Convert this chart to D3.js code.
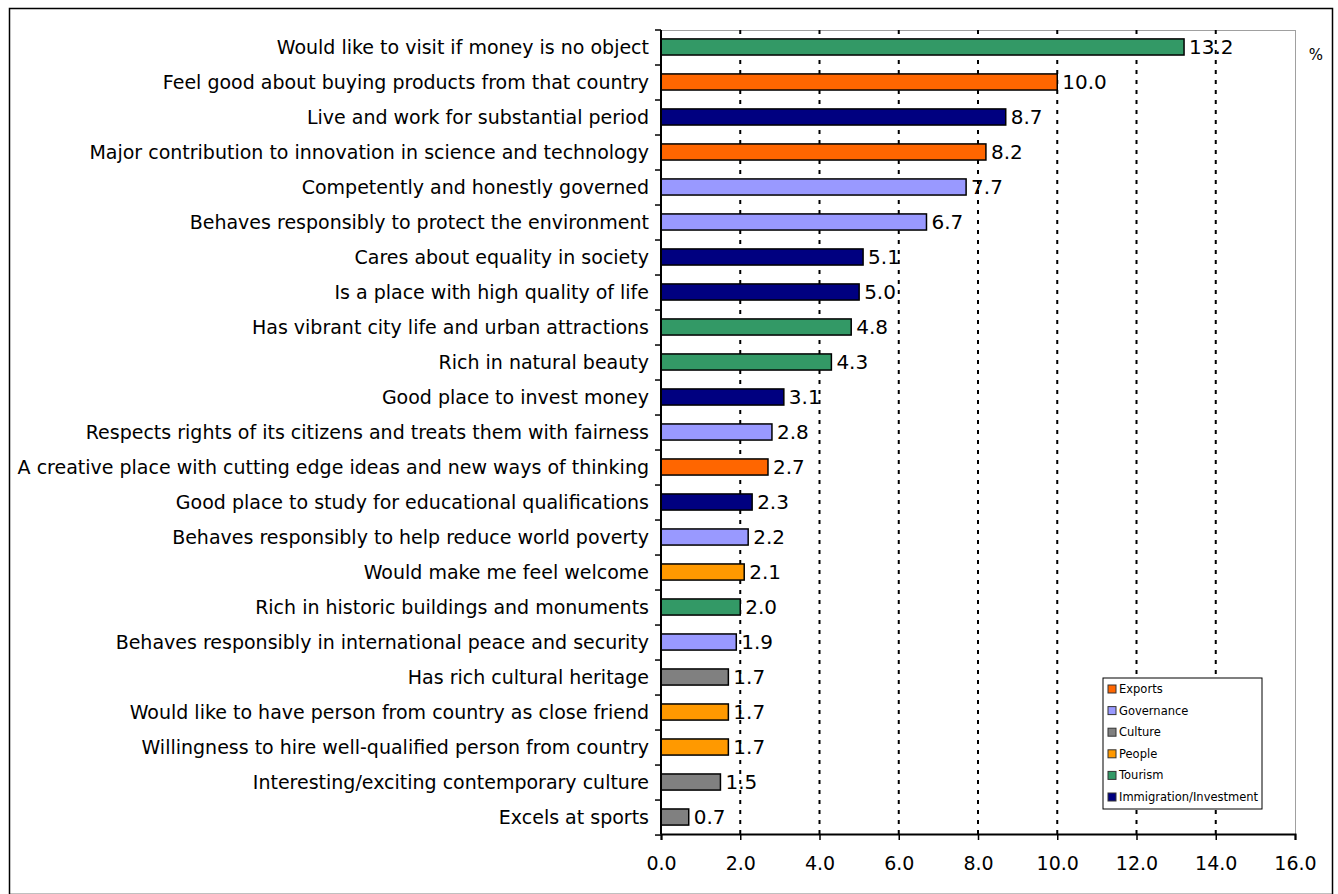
<!DOCTYPE html>
<html>
<head>
<meta charset="utf-8">
<script src="https://cdn.jsdelivr.net/npm/d3@7"></script>
<style>
    body { margin: 0; background: #fff; }
    svg { display: block; }
    .label { font-family: "DejaVu Sans", Verdana, sans-serif; font-size: 19px; fill: #000; }
    .xAxis text { font-family: "DejaVu Sans", Verdana, sans-serif; font-size: 19px; fill: #000; }
    .legend text { font-family: "DejaVu Sans", Verdana, sans-serif; font-size: 11.5px; fill: #000; }
</style>
</head>
<body>
<div id="chart"></div>
<script>
const categories = [
    "Would like to visit if money is no object",
    "Feel good about buying products from that country",
    "Live and work for substantial period",
    "Major contribution to innovation in science and technology",
    "Competently and honestly governed",
    "Behaves responsibly to protect the environment",
    "Cares about equality in society",
    "Is a place with high quality of life",
    "Has vibrant city life and urban attractions",
    "Rich in natural beauty",
    "Good place to invest money",
    "Respects rights of its citizens and treats them with fairness",
    "A creative place with cutting edge ideas and new ways of thinking",
    "Good place to study for educational qualifications",
    "Behaves responsibly to help reduce world poverty",
    "Would make me feel welcome",
    "Rich in historic buildings and monuments",
    "Behaves responsibly in international peace and security",
    "Has rich cultural heritage",
    "Would like to have person from country as close friend",
    "Willingness to hire well-qualified person from country",
    "Interesting/exciting contemporary culture",
    "Excels at sports"
];
const values = [13.2, 10.0, 8.7, 8.2, 7.7, 6.7, 5.1, 5.0, 4.8, 4.3, 3.1, 2.8, 2.7,
                2.3, 2.2, 2.1, 2.0, 1.9, 1.7, 1.7, 1.7, 1.5, 0.7];
const groups = ["Tourism", "Exports", "Immigration/Investment", "Exports", "Governance",
                "Governance", "Immigration/Investment", "Immigration/Investment", "Tourism",
                "Tourism", "Immigration/Investment", "Governance", "Exports",
                "Immigration/Investment", "Governance", "People", "Tourism", "Governance",
                "Culture", "People", "People", "Culture", "Culture"];
const legend_names = ["Exports", "Governance", "Culture", "People", "Tourism", "Immigration/Investment"];
const legend_colors = ["#ff6600", "#9999ff", "#808080", "#ff9900", "#339966", "#000080"];
const x_ticks = [0, 2, 4, 6, 8, 10, 12, 14, 16];

let svg_width = 1338, svg_height = 894,
    plot = {left: 661, right: 1295, top: 30, bottom: 834};

let svg = d3.select("#chart").append("svg")
    .attr("width", svg_width)
    .attr("height", svg_height);

// outer frame
svg.append("rect")
    .attr("x", 9.5).attr("y", 8.5)
    .attr("width", 1323).attr("height", 886)
    .attr("fill", "none")
    .attr("stroke", "#000")
    .attr("stroke-width", 1.5);

let x = d3.scaleLinear()
    .domain([0, 16])
    .range([plot.left, plot.right]);
let y = d3.scaleBand()
    .domain(categories)
    .range([plot.top, plot.bottom])
    .paddingInner(0.54)
    .paddingOuter(0.255);
let color = d3.scaleOrdinal()
    .domain(legend_names)
    .range(legend_colors);

// plot area border
svg.append("rect")
    .attr("x", plot.left).attr("y", plot.top + 0.5)
    .attr("width", plot.right - plot.left + 0.5)
    .attr("height", plot.bottom - plot.top)
    .attr("fill", "none")
    .attr("stroke", "#a0a0a0")
    .attr("stroke-width", 1);

// dotted gridlines
svg.append("g")
    .selectAll("line")
    .data(x_ticks.slice(1, -1))
    .join("line")
    .attr("x1", d => x(d)).attr("x2", d => x(d))
    .attr("y1", plot.top).attr("y2", plot.bottom)
    .attr("stroke", "#000")
    .attr("stroke-width", 2)
    .attr("stroke-dasharray", "4,6");

// bars
svg.append("g")
    .selectAll("rect")
    .data(categories)
    .join("rect")
    .attr("x", x(0))
    .attr("y", d => y(d))
    .attr("width", (d, i) => x(values[i]) - x(0))
    .attr("height", y.bandwidth())
    .attr("fill", (d, i) => color(groups[i]))
    .attr("stroke", "#000")
    .attr("stroke-width", 1.5);

// value labels
svg.append("g")
    .selectAll("text")
    .data(categories)
    .join("text")
    .attr("class", "label")
    .attr("x", (d, i) => x(values[i]) + 5)
    .attr("y", d => y(d) + y.bandwidth() / 2)
    .attr("dy", "0.36em")
    .style("font-size", "20px")
    .text((d, i) => values[i].toFixed(1));

// category labels
svg.append("g")
    .selectAll("text")
    .data(categories)
    .join("text")
    .attr("class", "label")
    .attr("text-anchor", "end")
    .attr("x", plot.left - 12)
    .attr("y", d => y(d) + y.bandwidth() / 2)
    .attr("dy", "0.36em")
    .text(d => d);

// y axis line with ticks between categories
let step = y.step();
let y_axis = svg.append("g");
y_axis.append("line")
    .attr("x1", plot.left).attr("x2", plot.left)
    .attr("y1", plot.top).attr("y2", plot.bottom)
    .attr("stroke", "#000").attr("stroke-width", 2);
y_axis.selectAll(".tick")
    .data(d3.range(categories.length + 1))
    .join("line")
    .attr("class", "tick")
    .attr("x1", plot.left - 6).attr("x2", plot.left)
    .attr("y1", i => plot.top + i * step)
    .attr("y2", i => plot.top + i * step)
    .attr("stroke", "#000").attr("stroke-width", 1.5);

// x axis
let x_axis = svg.append("g")
    .attr("class", "xAxis")
    .attr("transform", "translate(0," + plot.bottom + ")")
    .call(d3.axisBottom(x)
        .tickValues(x_ticks)
        .tickFormat(d3.format(".1f"))
        .tickSize(6)
        .tickPadding(17));
x_axis.select(".domain").attr("stroke-width", 2);
x_axis.selectAll(".tick line").attr("stroke-width", 1.5);

svg.append("text")
    .attr("class", "label")
    .attr("x", 1316).attr("y", 60)
    .attr("text-anchor", "middle")
    .style("font-size", "15px")
    .text("%");

// legend
let legend = svg.append("g")
    .attr("class", "legend")
    .attr("transform", "translate(1103,678)");
legend.append("rect")
    .attr("width", 159).attr("height", 131)
    .attr("fill", "#fff")
    .attr("stroke", "#000");
let items = legend.selectAll(".item")
    .data(legend_names)
    .join("g")
    .attr("class", "item")
    .attr("transform", (d, i) => "translate(5," + (11 + i * 21.6) + ")");
items.append("rect")
    .attr("x", 0).attr("y", -4)
    .attr("width", 8).attr("height", 8)
    .attr("fill", d => color(d))
    .attr("stroke", "#333");
items.append("text")
    .attr("x", 11)
    .attr("dy", "0.35em")
    .text(d => d);
</script>
</body>
</html>
